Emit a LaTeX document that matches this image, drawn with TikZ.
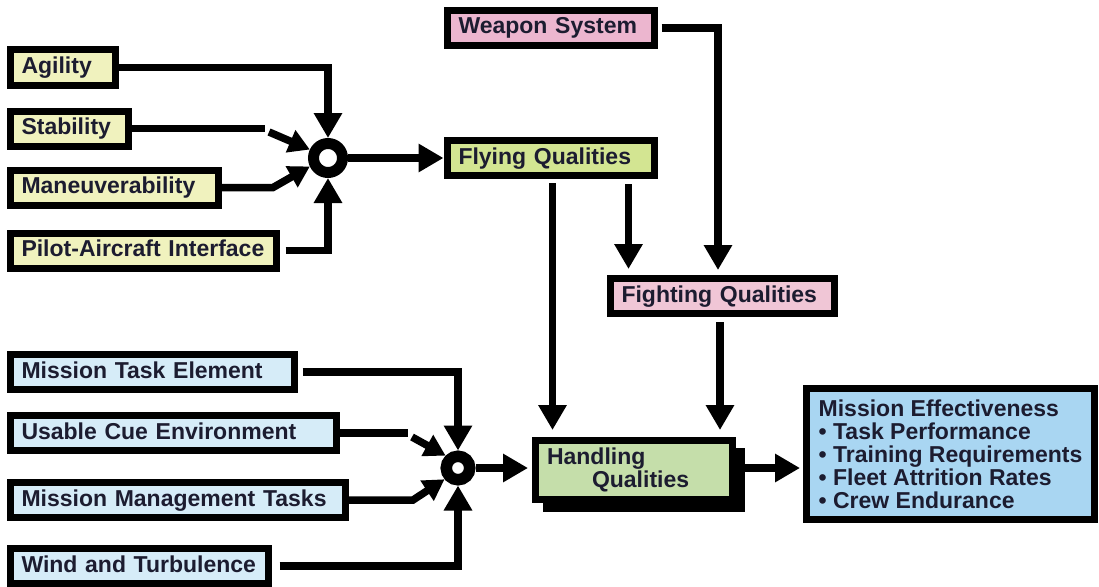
\documentclass[tikz,border=0pt]{standalone}
\usepackage{fontspec}
\setmainfont{Liberation Sans}
\usepackage{xcolor}
\usepackage{tikz}
\usetikzlibrary{arrows.meta,shadows,positioning}
\definecolor{qink}{HTML}{1C1C30}
\definecolor{qyellow}{HTML}{F0F2BE}
\definecolor{qgreen}{HTML}{D3E592}
\definecolor{qhandle}{HTML}{C5DEAA}
\definecolor{qpink}{HTML}{ECB6CF}
\definecolor{qrose}{HTML}{F0C6D6}
\definecolor{qblue}{HTML}{D6ECF8}
\definecolor{qsky}{HTML}{A9D6F2}
\tikzset{>={Triangle[length=25pt,width=27pt]}}

\begin{document}
\begin{tikzpicture}[x=1pt,y=-1pt,
                    factor/.style={draw, line width=7pt, inner xsep=11.5pt, inner ysep=0pt,
                                   align=left, text=qink,
                                   font=\fontsize{23}{23}\selectfont\bfseries},
                    cause/.style={factor, minimum height=35pt, text height=16.5pt, text depth=4.5pt},
                    junction/.style={circle, draw, fill=white, inner sep=0pt},
                    wire/.style={line width=7.5pt},
                    link/.style={line width=7.5pt, ->},
                    small/.style={-{Triangle[length=21pt,width=23pt]}},
                   ]

\useasboundingbox (0,0) rectangle (1099,586);

% influences on flying qualities
\node[cause, fill=qyellow, text width=82pt]  (agil)  at (62.5,67.5)  {Agility};
\node[cause, fill=qyellow, text width=95pt]  (stab)  at (69,128.5)   {Stability};
\node[cause, fill=qyellow, text width=185pt] (manv)  at (114,187.5)  {Maneuverability};
\node[cause, fill=qyellow, text width=243pt] (pilot) at (143,250.5)  {Pilot-Aircraft Interface};

\node[junction, minimum size=29pt, line width=11pt] (sum1) at (328,158) {};

\node[cause, fill=qpink,  text width=184pt] (weap)  at (550.5,28)  {Weapon System};
\node[cause, fill=qgreen, text width=184pt] (flyq)  at (550.5,158) {Flying Qualities};
\node[cause, fill=qrose,  text width=201pt] (fighq) at (722,296)   {Fighting Qualities};

% influences on handling qualities
\node[cause, fill=qblue, text width=261pt] (mte)  at (152,372)   {Mission Task Element};
\node[cause, fill=qblue, text width=303pt] (cue)  at (173,433)   {Usable Cue Environment};
\node[cause, fill=qblue, text width=312pt] (mmt)  at (177.5,500) {Mission Management Tasks};
\node[cause, fill=qblue, text width=235pt] (wind) at (139,566)   {Wind and Turbulence};

\node[junction, minimum size=23.5pt, line width=11.5pt] (sum2) at (458,468) {};

\node[factor, fill=qhandle, text width=174pt, minimum height=59pt,
      drop shadow={shadow xshift=10pt, shadow yshift=-10pt, fill=black, draw=black, line width=5pt, opacity=1}]
      (handq) at (634,470) {Handling\\\hspace*{45pt}Qualities};

\node[factor, fill=qsky, minimum width=288pt, minimum height=131pt] (meff) at (950.5,454)
      {Mission Effectiveness\\\textbullet{} Task Performance\\\textbullet{} Training Requirements\\
       \textbullet{} Fleet Attrition Rates\\\textbullet{} Crew Endurance};

\coordinate (stabend)  at (265,128.5);
\coordinate (stabtip)  at (269,132);
\coordinate (manvbend) at (273,187.5);
\coordinate (cueend)   at (408,433);
\coordinate (cuetip)   at (412,437);
\coordinate (mmtbend)  at (413,500);
\coordinate (hqout)    at ([xshift=9pt]handq.east);

\draw[link] (agil.east) -| (sum1.north);
\draw[wire] (stab.east) -- (stabend);
\draw[link, small] (stabtip) -- (sum1.155);
\draw[link, small] (manv.east) -- (manvbend) -- (sum1.205);
\draw[link, shorten <=6pt] (pilot.east) -| (sum1.south);
\draw[link] (sum1.east) -- (flyq.west);

\draw[link, shorten <=4pt, shorten >=5pt] (weap.east) -| ([xshift=-4pt]fighq.north);
\draw[link, shorten <=5pt, shorten >=6pt] ([xshift=78pt]flyq.south) -- ([xshift=78pt]flyq.south |- fighq.north);
\draw[link, shorten <=4pt, shorten >=7pt] ([xshift=2pt]flyq.south) -- ([xshift=2pt]flyq.south |- handq.north);
\draw[link, shorten <=5pt, shorten >=7pt] ([xshift=-2pt]fighq.south) -- ([xshift=-2pt]fighq.south |- handq.north);

\draw[link, shorten <=5pt] (mte.east) -| (sum2.north);
\draw[wire] (cue.east) -- (cueend);
\draw[link, small] (cuetip) -- (sum2.135);
\draw[link, small] (mmt.east) -- (mmtbend) -- (sum2.220);
\draw[link, shorten <=8pt] (wind.east) -| (sum2.south);
\draw[link, shorten >=4pt] (sum2.east) -- (sum2 -| handq.west);
\draw[link, shorten >=3pt] (hqout |- sum2) -- (sum2 -| meff.west);

\end{tikzpicture}
\end{document}
